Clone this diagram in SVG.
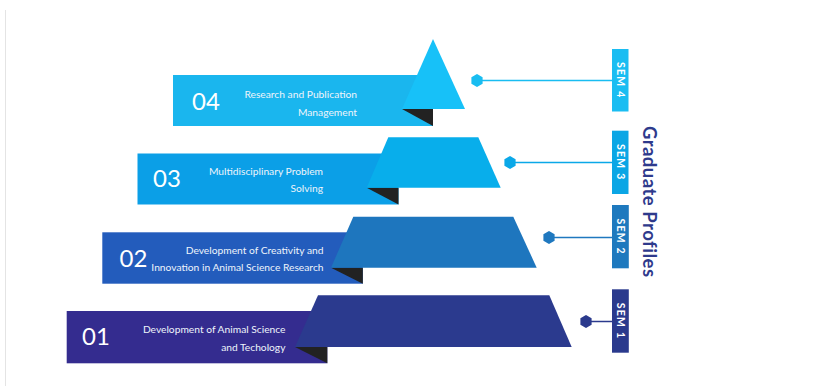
<svg xmlns="http://www.w3.org/2000/svg" width="821" height="386" viewBox="0 0 821 386">
<style>
.num{font-family:Lato,"Liberation Sans",sans-serif;font-size:24px;fill:#ffffff}
.desc{font-family:Lato,"Liberation Sans",sans-serif;font-size:10.25px;fill:#eef4fb;text-anchor:end}
.sem{font-family:Lato,"Liberation Sans",sans-serif;font-size:10.5px;font-weight:bold;letter-spacing:1.2px;fill:#ffffff;text-anchor:middle}
.fold{fill:#222222}
.title{font-family:Lato,"Liberation Sans",sans-serif;font-size:18.5px;font-weight:bold;letter-spacing:0.5px;fill:#2e3a8c;text-anchor:middle}
</style>
<rect width="821" height="386" fill="#ffffff"/>
<line x1="5.5" y1="10" x2="5.5" y2="386" stroke="#e4e4e4" stroke-width="1"/>

<g id="connectors">
<line x1="477" y1="80.5" x2="612" y2="80.5" stroke="#19bdf1" stroke-width="1.5"/>
<line x1="510" y1="162.5" x2="612" y2="162.5" stroke="#0aa8e8" stroke-width="1.5"/>
<line x1="549" y1="237.5" x2="612" y2="237.5" stroke="#1f78bf" stroke-width="1.5"/>
<line x1="586" y1="321.5" x2="612" y2="321.5" stroke="#2b3a8d" stroke-width="1.5"/>
<polygon points="477,74 482.6,77.25 482.6,83.75 477,87 471.4,83.75 471.4,77.25" fill="#19bdf1"/>
<polygon points="510,156 515.6,159.25 515.6,165.75 510,169 504.4,165.75 504.4,159.25" fill="#0aa8e8"/>
<polygon points="549,231 554.6,234.25 554.6,240.75 549,244 543.4,240.75 543.4,234.25" fill="#1f78bf"/>
<polygon points="586,315 591.6,318.25 591.6,324.75 586,328 580.4,324.75 580.4,318.25" fill="#2b3a8d"/>
</g>

<g id="level4">
<rect x="173" y="75" width="260" height="51" fill="#1ab6ee"/>
<polygon class="fold" points="402,109 433,109 433,126"/>
<polygon points="433,39 465,109 402,109" fill="#17c1f8"/>
<text class="num" x="192" y="110">04</text>
<text class="desc" x="357" y="98">Research and Publication</text>
<text class="desc" x="357" y="115.5">Management</text>
</g>

<g id="level3">
<rect x="137.5" y="153.5" width="261" height="51" fill="#0b9fe7"/>
<polygon class="fold" points="366.7,187.7 398.5,187.7 398.5,204.5"/>
<polygon points="388.3,137.3 478.3,137.3 500.7,187.7 366.7,187.7" fill="#08aeeb"/>
<text class="num" x="153" y="187">03</text>
<text class="desc" x="323" y="174.5">Multidisciplinary Problem</text>
<text class="desc" x="323" y="192">Solving</text>
</g>

<g id="level2">
<rect x="102.3" y="232.3" width="260.5" height="51.4" fill="#235cbc"/>
<polygon class="fold" points="331,267.7 362.8,267.7 362.8,283.7"/>
<polygon points="353.3,216.7 513.3,216.7 536.7,267.7 331,267.7" fill="#1e76be"/>
<text class="num" x="119.5" y="267">02</text>
<text class="desc" x="323.5" y="253.5">Development of Creativity and</text>
<text class="desc" x="323.5" y="271">Innovation in Animal Science Research</text>
</g>

<g id="level1">
<rect x="66.7" y="311" width="260.6" height="52.3" fill="#342c8f"/>
<polygon class="fold" points="295,347 327.3,347 327.3,363.3"/>
<polygon points="318,295.3 549.3,295.3 571.7,347 295,347" fill="#2b3a8e"/>
<text class="num" x="82" y="345">01</text>
<text class="desc" x="285.5" y="333">Development of Animal Science</text>
<text class="desc" x="285.5" y="350.5">and Techology</text>
</g>

<g id="sem4">
<rect x="612" y="49" width="16.5" height="62.5" fill="#1abdf2"/>
<text class="sem" transform="translate(616.6,80.3) rotate(90)">SEM 4</text>
</g>
<g id="sem3">
<rect x="612" y="130.7" width="16.5" height="63.3" fill="#0ba6e5"/>
<text class="sem" transform="translate(616.6,162.3) rotate(90)">SEM 3</text>
</g>
<g id="sem2">
<rect x="612" y="205" width="16.8" height="63.3" fill="#1e79be"/>
<text class="sem" transform="translate(616.7,236.7) rotate(90)">SEM 2</text>
</g>
<g id="sem1">
<rect x="612" y="289.3" width="16.8" height="63.4" fill="#2a3a8d"/>
<text class="sem" transform="translate(616.7,321) rotate(90)">SEM 1</text>
</g>

<g id="title">
<text class="title" transform="translate(643,201.7) rotate(90)">Graduate Profiles</text>
</g>
</svg>
